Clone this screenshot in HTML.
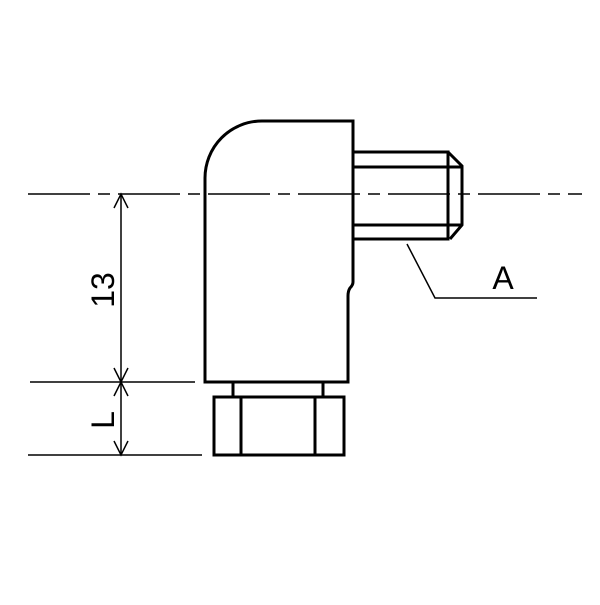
<!DOCTYPE html>
<html><head><meta charset="utf-8"><style>html,body{margin:0;padding:0;background:#fff}</style></head>
<body>
<svg width="600" height="600" viewBox="0 0 600 600" xmlns="http://www.w3.org/2000/svg">
<g fill="none" stroke="#000" stroke-width="3" stroke-linejoin="miter">
  <!-- body -->
  <path d="M205,382 L205,178 A57,57 0 0 1 262,121 L353,121 L353,282 Q353,285 350,288 Q348,291 348,296 L348,382 Z"/>
  <!-- thread -->
  <path d="M353,152 L448,152 L448,239 L353,239"/>
  <path d="M353,167 L462,167 M353,225 L462,225"/>
  <path d="M448,152 L462,166 L462,225 L450,239"/>
  <!-- neck -->
  <path d="M233,382 L233,397 M323,382 L323,397"/>
  <!-- nut -->
  <rect x="214" y="397" width="130" height="58"/>
  <path d="M241,397 L241,455 M315,397 L315,455"/>
</g>
<g fill="none" stroke="#000" stroke-width="1.5">
  <path d="M407,244 L435,298 L537,298"/>
  <path d="M28,194 L582,194" stroke-dasharray="62,8,12,8"/>
  <path d="M30,382 L195,382 M28,455 L202,455"/>
  <path d="M121,194 L121,455"/>
  <path d="M114,208 L121,194 L128,208 M114,368 L121,382 L128,368 M114,396 L121,382 L128,396 M114,441 L121,455 L128,441"/>
</g>
<g font-family="Liberation Sans, sans-serif" font-size="32" fill="#000">
  <text x="0" y="0" transform="translate(114,290) rotate(-90)" text-anchor="middle">13</text>
  <text x="0" y="0" transform="translate(114,420) rotate(-90)" text-anchor="middle">L</text>
  <text x="503" y="289" text-anchor="middle">A</text>
</g>
</svg>
</body></html>
